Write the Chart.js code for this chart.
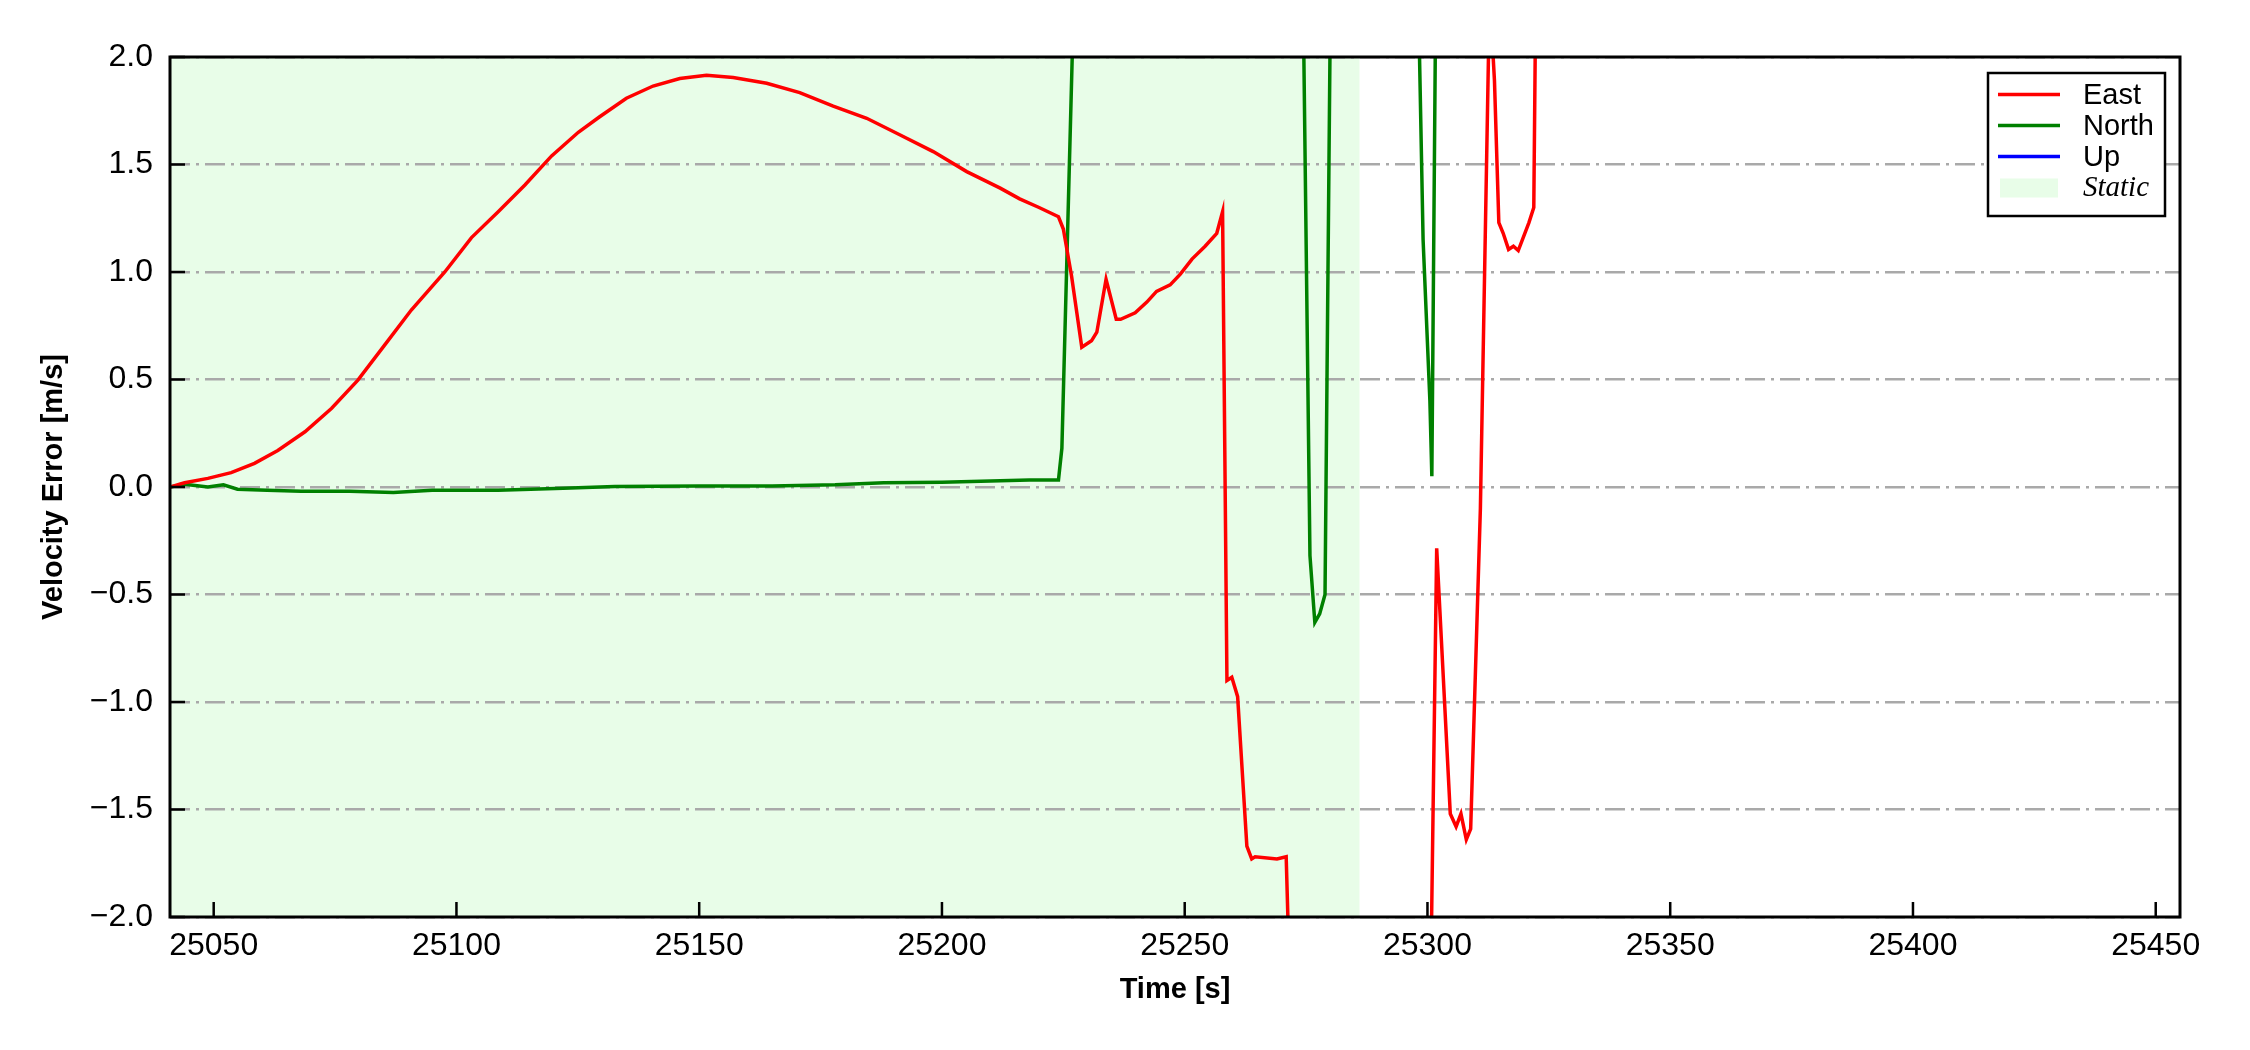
<!DOCTYPE html>
<html>
<head>
<meta charset="utf-8">
<script src="https://cdn.jsdelivr.net/npm/chart.js@4.4.1/dist/chart.umd.min.js"></script>
<style>
  html, body { margin: 0; padding: 0; background: #ffffff; }
  #wrap { width: 2250px; height: 1050px; }
</style>
</head>
<body>
<div id="wrap"><canvas id="velChart" width="2250" height="1050"></canvas></div>
<script>
// values
const eastTime = [25041.0, 25044.0, 25048.8, 25053.6, 25058.4, 25063.2, 25068.8, 25074.3, 25079.7, 25085.2,
  25090.7, 25097.6, 25103.1, 25108.6, 25114.1, 25119.6, 25125.1, 25129.5, 25135.0, 25140.5,
  25146.0, 25151.5, 25157.0, 25163.9, 25170.7, 25177.6, 25184.5, 25191.4, 25198.2, 25205.1,
  25212.0, 25216.0, 25220.0, 25224.0, 25225.0, 25226.7, 25228.8, 25230.8, 25231.9, 25233.8,
  25235.9, 25236.8, 25239.8, 25242.2, 25244.2, 25247.0, 25249.1, 25251.5, 25254.2, 25256.6,
  25257.8, 25258.7, 25259.7, 25260.9, 25262.8, 25263.8, 25264.5, 25269.0, 25270.9, 25272.0,
  25300.0, 25301.9, 25304.7, 25305.9, 25306.9, 25308.0, 25308.9, 25310.9, 25312.8, 25313.8,
  25314.7, 25315.6, 25316.7, 25317.7, 25318.7, 25320.9, 25321.9, 25323.0];
const eastVel = [0.00, 0.02, 0.04, 0.067, 0.11, 0.17, 0.257, 0.366, 0.497, 0.66,
  0.823, 1.00, 1.16, 1.28, 1.405, 1.54, 1.65, 1.722, 1.808, 1.865,
  1.90, 1.915, 1.905, 1.878, 1.834, 1.772, 1.715, 1.637, 1.56, 1.467,
  1.39, 1.34, 1.30, 1.257, 1.20, 0.98, 0.65, 0.68, 0.72, 0.966,
  0.78, 0.78, 0.81, 0.86, 0.91, 0.94, 0.99, 1.06, 1.12, 1.18,
  1.28, -0.90, -0.885, -0.975, -1.67, -1.73, -1.72, -1.73, -1.72, -2.6,
  -3.4, -0.285, -1.52, -1.58, -1.52, -1.64, -1.59, -0.10, 2.30, 1.89,
  1.23, 1.18, 1.105, 1.12, 1.10, 1.23, 1.30, 4.0];

const northTime = [25041.0, 25044.0, 25048.8, 25052.0, 25054.9, 25061.0, 25068.0, 25078.0, 25087.0, 25095.0,
  25108.6, 25122.0, 25132.6, 25150.0, 25165.0, 25178.0, 25188.0, 25200.0, 25210.0, 25218.0,
  25224.0, 25224.7, 25228.0, 25274.0, 25275.8, 25276.8, 25277.8, 25278.9, 25280.6, 25297.5,
  25299.1, 25300.5, 25300.9, 25302.0];
const northVel = [0.00, 0.013, 0.00, 0.01, -0.01, -0.015, -0.02, -0.02, -0.025, -0.015,
  -0.015, -0.006, 0.002, 0.005, 0.005, 0.01, 0.02, 0.022, 0.028, 0.032,
  0.033, 0.18, 3.0, 3.0, -0.32, -0.63, -0.59, -0.50, 3.7, 3.0,
  1.15, 0.40, 0.05, 3.1];

// the Up component never enters the plotted range
const upTime = [];
const upVel = [];

const seriesNames = ["East", "North", "Up"];
const staticLabel = "Static";
const staticSpan = [25041, 25286];

const xTicks = [25050, 25100, 25150, 25200, 25250, 25300, 25350, 25400, 25450];
const yTicks = [-2.0, -1.5, -1.0, -0.5, 0.0, 0.5, 1.0, 1.5, 2.0];
const xRange = [25041, 25455];
const yRange = [-2, 2];

const lineColors = ["#ff0000", "#008000", "#0000ff"];
const FONT = "'Liberation Sans', Arial, Helvetica, sans-serif";

const zip = (ts, vs) => ts.map((t, i) => ({ x: t, y: vs[i] }));
const seriesData = [zip(eastTime, eastVel), zip(northTime, northVel), zip(upTime, upVel)];

// axvspan-like shading, drawn under the grid
const staticShade = {
  id: "staticShade",
  beforeDraw(chart) {
    const { ctx, chartArea, scales } = chart;
    ctx.save();
    ctx.fillStyle = "#ffffff";
    ctx.fillRect(0, 0, chart.width, chart.height);
    const x0 = Math.max(scales.x.getPixelForValue(staticSpan[0]), chartArea.left);
    const x1 = Math.min(scales.x.getPixelForValue(staticSpan[1]), chartArea.right);
    ctx.fillStyle = "#e8fde8";
    ctx.fillRect(x0, chartArea.top, x1 - x0, chartArea.bottom - chartArea.top);
    ctx.restore();
  }
};

// frame, inward ticks and the boxed legend
const frameAndLegend = {
  id: "frameAndLegend",
  afterDraw(chart) {
    const { ctx, chartArea, scales } = chart;
    ctx.save();
    ctx.strokeStyle = "#000000";
    ctx.lineWidth = 2.5;
    ctx.beginPath();
    xTicks.forEach(v => {
      const px = scales.x.getPixelForValue(v);
      ctx.moveTo(px, chartArea.bottom);
      ctx.lineTo(px, chartArea.bottom - 15);
    });
    yTicks.forEach(v => {
      const py = scales.y.getPixelForValue(v);
      ctx.moveTo(chartArea.left, py);
      ctx.lineTo(chartArea.left + 15, py);
    });
    ctx.stroke();
    ctx.lineWidth = 3;
    ctx.strokeRect(chartArea.left, chartArea.top, chartArea.right - chartArea.left, chartArea.bottom - chartArea.top);

    // legend
    const bw = 177, bh = 143;
    const bx = chartArea.right - 15 - bw;
    const by = chartArea.top + 16;
    ctx.fillStyle = "#ffffff";
    ctx.fillRect(bx, by, bw, bh);
    ctx.lineWidth = 2.5;
    ctx.strokeRect(bx, by, bw, bh);
    const rowH = 31;
    const firstRow = by + 21.5;
    ctx.textBaseline = "middle";
    ctx.textAlign = "left";
    chart.data.datasets.forEach((ds, i) => {
      const y = firstRow + i * rowH;
      ctx.strokeStyle = ds.borderColor;
      ctx.lineWidth = 3.5;
      ctx.beginPath();
      ctx.moveTo(bx + 10, y);
      ctx.lineTo(bx + 72, y);
      ctx.stroke();
      ctx.fillStyle = "#000000";
      ctx.font = "29px " + FONT;
      ctx.fillText(ds.label, bx + 95, y + 1);
    });
    const ys = firstRow + chart.data.datasets.length * rowH;
    ctx.fillStyle = "#e8fde8";
    ctx.fillRect(bx + 12, ys - 9, 58, 19);
    ctx.fillStyle = "#000000";
    ctx.font = "italic 29px 'Liberation Serif', 'Times New Roman', serif";
    ctx.fillText(staticLabel, bx + 95, ys + 1);
    ctx.restore();
  }
};

new Chart(document.getElementById("velChart"), {
  type: "line",
  data: {
    datasets: seriesNames.map((name, i) => ({
      label: name,
      data: seriesData[i],
      borderColor: lineColors[i],
      backgroundColor: lineColors[i],
      borderWidth: 3.5,
      pointRadius: 0,
      tension: 0,
      fill: false,
      clip: 0
    }))
  },
  options: {
    responsive: false,
    animation: false,
    devicePixelRatio: 1,
    layout: { padding: { left: 0, right: 70, top: 57, bottom: 0 } },
    plugins: {
      legend: { display: false },
      tooltip: { enabled: false }
    },
    scales: {
      x: {
        type: "linear",
        min: xRange[0],
        max: xRange[1],
        afterBuildTicks: s => { s.ticks = xTicks.map(v => ({ value: v })); },
        afterFit: s => { s.height = 133; },
        grid: { display: false, drawTicks: false },
        border: { display: false },
        ticks: {
          autoSkip: false,
          maxRotation: 0,
          padding: 10,
          color: "#000000",
          font: { family: FONT, size: 32 },
          callback: v => String(v)
        },
        title: {
          display: true,
          text: "Time [s]",
          color: "#000000",
          font: { family: FONT, size: 29, weight: "bold" },
          padding: { top: 0, bottom: 43 }
        }
      },
      y: {
        type: "linear",
        min: yRange[0],
        max: yRange[1],
        afterBuildTicks: s => { s.ticks = yTicks.map(v => ({ value: v })); },
        afterFit: s => { s.width = 170; },
        grid: { color: "#a9a9a9", lineWidth: 2.5, drawTicks: false },
        border: { display: false, dash: [20, 6, 3, 6] },
        ticks: {
          padding: 17,
          color: "#000000",
          font: { family: FONT, size: 32 },
          callback: v => v.toFixed(1).replace("-", "\u2212")
        },
        title: {
          display: true,
          text: "Velocity Error [m/s]",
          color: "#000000",
          font: { family: FONT, size: 29, weight: "bold" },
          padding: { top: 37, bottom: 0 }
        }
      }
    }
  },
  plugins: [staticShade, frameAndLegend]
});
</script>
</body>
</html>
